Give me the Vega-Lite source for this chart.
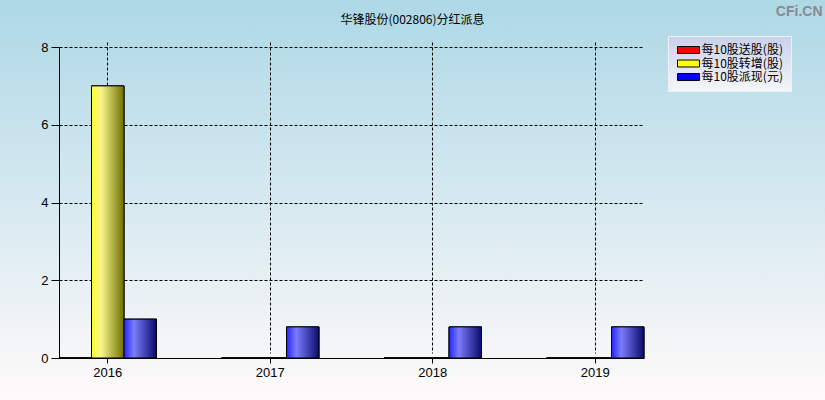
{
  "$schema": "https://vega.github.io/schema/vega-lite/v6.json",
  "width": 825,
  "height": 400,
  "padding": 0,
  "autosize": {"type": "none"},
  "background": "#fffafa",
  "title": {
    "text": "华锋股份(002806)分红派息",
    "anchor": "middle",
    "frame": "group",
    "offset": -32,
    "baseline": "middle",
    "font": "Noto Sans CJK SC",
    "fontSize": 12,
    "fontWeight": "normal",
    "color": "#000000"
  },
  "data": {
    "values": [
      {"year": "2016", "series": "每10股送股(股)", "value": 0},
      {"year": "2016", "series": "每10股转增(股)", "value": 7},
      {"year": "2016", "series": "每10股派现(元)", "value": 1},
      {"year": "2017", "series": "每10股送股(股)", "value": 0},
      {"year": "2017", "series": "每10股转增(股)", "value": 0},
      {"year": "2017", "series": "每10股派现(元)", "value": 0.8},
      {"year": "2018", "series": "每10股送股(股)", "value": 0},
      {"year": "2018", "series": "每10股转增(股)", "value": 0},
      {"year": "2018", "series": "每10股派现(元)", "value": 0.8},
      {"year": "2019", "series": "每10股送股(股)", "value": 0},
      {"year": "2019", "series": "每10股转增(股)", "value": 0},
      {"year": "2019", "series": "每10股派现(元)", "value": 0.8}
    ]
  },
  "encoding": {
    "x": {
      "field": "year",
      "type": "nominal",
      "scale": {"range": [59, 644], "paddingInner": 0.4, "paddingOuter": 0},
      "axis": {
        "title": null,
        "offset": -42,
        "bandPosition": 0.5,
        "labelAngle": 0,
        "labelFont": "Liberation Sans",
        "labelFontSize": 13,
        "labelColor": "#000000",
        "labelPadding": 3,
        "tickSize": 5,
        "tickColor": "#000000",
        "domainColor": "#000000",
        "grid": true,
        "gridColor": "#000000",
        "gridOpacity": 1,
        "gridDash": [3, 2]
      }
    },
    "xOffset": {
      "field": "series",
      "type": "nominal",
      "scale": {
        "domain": ["每10股送股(股)", "每10股转增(股)", "每10股派现(元)"],
        "paddingInner": 0,
        "paddingOuter": 0
      }
    },
    "y": {
      "field": "value",
      "type": "quantitative",
      "scale": {"domain": [0, 8], "range": [358, 47], "nice": false, "zero": true},
      "axis": {
        "values": [0, 2, 4, 6, 8],
        "offset": -59,
        "labelFont": "Liberation Sans",
        "labelFontSize": 13,
        "labelColor": "#000000",
        "labelPadding": 3,
        "tickSize": 8,
        "tickColor": "#000000",
        "domainColor": "#000000",
        "grid": true,
        "gridColor": "#000000",
        "gridOpacity": 1,
        "gridDash": [3, 2],
        "title": "CFi.CN",
        "titleAngle": 0,
        "titleX": 763,
        "titleY": 15,
        "titleAlign": "right",
        "titleBaseline": "alphabetic",
        "titleFont": "Liberation Sans",
        "titleFontSize": 14,
        "titleFontWeight": "bold",
        "titleColor": "#8a8a8a"
      }
    }
  },
  "layer": [
    {
      "mark": {"type": "bar", "stroke": "#000000", "strokeWidth": 1},
      "encoding": {
        "color": {
          "field": "series",
          "type": "nominal",
          "scale": {
            "domain": ["每10股送股(股)", "每10股转增(股)", "每10股派现(元)"],
            "range": ["#ff0000", "#ffff00", "#0000ff"]
          },
          "legend": {
            "title": null,
            "orient": "none",
            "legendX": 668,
            "legendY": 36,
            "padding": 8,
            "fillColor": {
              "value": {
                "gradient": "linear", "x1": 0, "y1": 0, "x2": 0, "y2": 1,
                "stops": [
                  {"offset": 0, "color": "#c9d2ea"},
                  {"offset": 1, "color": "#f6f6fa"}
                ]
              }
            },
            "strokeColor": "#eef0f6",
            "symbolType": "M-3.14,-1H3.14V1H-3.14Z",
            "symbolSize": 49,
            "symbolOffset": 6.5,
            "symbolStrokeColor": "#000000",
            "symbolStrokeWidth": 1,
            "symbolOpacity": 1,
            "labelOffset": 7,
            "labelFont": "Noto Sans CJK SC",
            "labelFontSize": 12,
            "labelColor": "#000000",
            "rowPadding": 1.5
          }
        }
      }
    },
    {
      "mark": {"type": "bar", "stroke": "#000000", "strokeWidth": 1},
      "encoding": {
        "fill": {
          "condition": [
            {
              "test": "datum.series === '每10股转增(股)'",
              "value": {
                "gradient": "linear", "x1": 0, "y1": 0, "x2": 1, "y2": 0,
                "stops": [
                  {"offset": 0, "color": "#ffff2a"},
                  {"offset": 0.3, "color": "#f6f68c"},
                  {"offset": 1, "color": "#6e6e00"}
                ]
              }
            },
            {
              "test": "datum.series === '每10股派现(元)'",
              "value": {
                "gradient": "linear", "x1": 0, "y1": 0, "x2": 1, "y2": 0,
                "stops": [
                  {"offset": 0, "color": "#2424ff"},
                  {"offset": 0.3, "color": "#7c7cff"},
                  {"offset": 1, "color": "#0a0a6a"}
                ]
              }
            }
          ],
          "value": {
            "gradient": "linear", "x1": 0, "y1": 0, "x2": 1, "y2": 0,
            "stops": [
              {"offset": 0, "color": "#ff2a2a"},
              {"offset": 0.3, "color": "#ff8a8a"},
              {"offset": 1, "color": "#6e0000"}
            ]
          }
        }
      }
    }
  ],
  "config": {
    "view": {
      "stroke": null,
      "fill": {
        "gradient": "linear", "x1": 0, "y1": 0, "x2": 0, "y2": 1,
        "stops": [
          {"offset": 0, "color": "#add8e6"},
          {"offset": 1, "color": "#fffafa"}
        ]
      }
    }
  }
}
